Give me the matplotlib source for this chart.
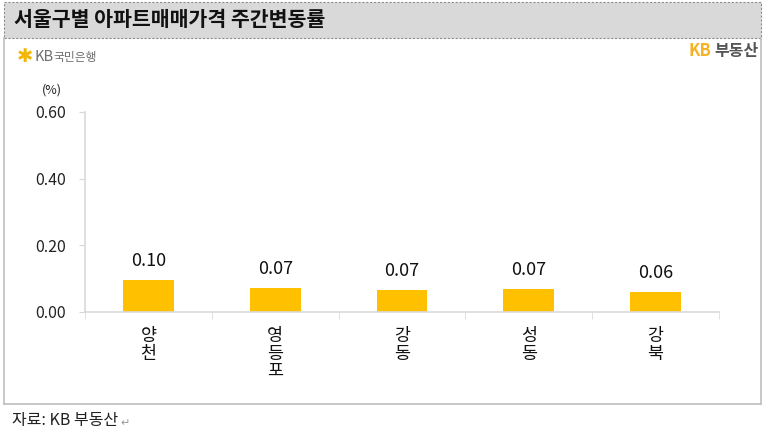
import matplotlib.pyplot as plt
from matplotlib.patches import Rectangle
from matplotlib.lines import Line2D
import numpy as np

plt.rcParams['font.family'] = ['Noto Sans CJK KR', 'DejaVu Sans']

districts = ["양천", "영등포", "강동", "성동", "강북"]
changes = [0.096, 0.071, 0.067, 0.068, 0.061]
yticks = [0.0, 0.2, 0.4, 0.6]

title = "서울구별 아파트매매가격 주간변동률"
source = "자료: KB 부동산"

W, H = 768, 429
bar_color = "#FFC000"
axis_gray = "#d9d9d9"

fig = plt.figure(figsize=(W / 100, H / 100), dpi=100)


def px(x, y):
    # pixel coords (top-left origin) -> figure coords
    return x / W, 1 - y / H


# title band
x0, y0 = px(4, 38)
fig.patches.append(Rectangle((x0, y0), (761 - 4) / W, (38 - 2) / H,
                             transform=fig.transFigure, facecolor="#d9d9d9",
                             edgecolor="#8c8c8c", linestyle=(0, (2, 1.5)), linewidth=0.8))
fig.text(*px(14, 20), title, fontsize=14.8, fontweight="bold", va="center", ha="left", color="#111111")

# outer frame of the box
frame = [((4, 38), (4, 404)), ((4, 404), (761, 404)), ((761, 38), (761, 404))]
for (xa, ya), (xb, yb) in frame:
    pa, pb = px(xa, ya), px(xb, yb)
    fig.lines.append(Line2D([pa[0], pb[0]], [pa[1], pb[1]], transform=fig.transFigure,
                            color="#bfbfbf", linewidth=1.2))

# KB국민은행 logo
fig.text(*px(25, 57), "✱", fontsize=14, color="#F2B705", va="center", ha="center",
         family=["DejaVu Sans"], fontweight="bold")
fig.text(*px(35, 57), "KB", fontsize=10.5, color="#6e6e6e", va="center", ha="left")
fig.text(*px(53, 57), "국민은행", fontsize=8.5, color="#6e6e6e", va="center", ha="left")

# KB 부동산 logo
fig.text(*px(689, 51), "KB", fontsize=12, fontweight="bold", color="#F5B324", va="center", ha="left")
fig.text(*px(714, 51), "부동산", fontsize=11.5, fontweight="bold", color="#555555", va="center", ha="left")

# source line
fig.text(*px(12, 421), source, fontsize=11.5, color="#222222", va="center", ha="left")
fig.text(*px(120, 423), "↵", fontsize=8, color="#999999", va="center", ha="left",
         family=["DejaVu Sans"])

# chart
ax = fig.add_axes([85 / W, (H - 312) / H, (719 - 85) / W, (312 - 112) / H])
x = np.arange(len(districts))
ax.bar(x, changes, width=0.4, color=bar_color)
for xi, v in zip(x, changes):
    ax.text(xi, v + 0.03, f"{v:.2f}", ha="center", va="bottom", fontsize=13, color="#111111")

ax.set_xlim(-0.5, len(districts) - 0.5)
ax.set_ylim(0, 0.6)
ax.set_yticks(yticks)
ax.set_yticklabels([f"{t:.2f}" for t in yticks], fontsize=11.5, color="#222222")
ax.tick_params(axis="y", length=4, color=axis_gray, pad=10)

ax.set_xticks(x)
ax.set_xticklabels(["\n".join(d) for d in districts], fontsize=12.5, color="#111111",
                   linespacing=0.95, va="top")
ax.tick_params(axis="x", which="major", length=0, pad=11)
ax.set_xticks(np.arange(len(districts) + 1) - 0.5, minor=True)
ax.tick_params(axis="x", which="minor", length=5, color=axis_gray)

for s in ["top", "right"]:
    ax.spines[s].set_visible(False)
for s in ["left", "bottom"]:
    ax.spines[s].set_color(axis_gray)
    ax.spines[s].set_linewidth(1.2)

fig.text(*px(52, 90), "(%)", fontsize=9, color="#222222", va="center", ha="center")

fig.savefig("out.png", dpi=100)
